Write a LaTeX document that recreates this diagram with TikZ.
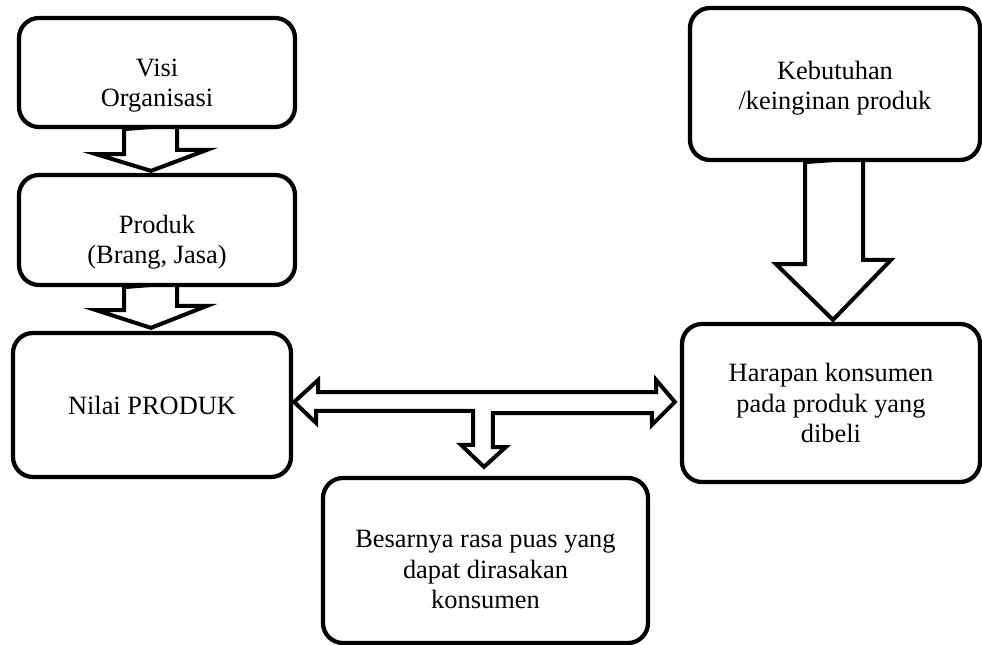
\documentclass[tikz,border=0pt]{standalone}
\usepackage{fontspec}
\setmainfont{Liberation Serif}
\usepackage{tikz}
\usetikzlibrary{positioning}
\usetikzlibrary{calc}
\usetikzlibrary{backgrounds}
\tikzset{
  box/.style={draw,rectangle,rounded corners=15pt,line width=3.2pt,fill=white,align=center,inner sep=0pt},
  blockarrow/.style={draw,line width=3pt,line join=miter,fill=white}
}

\begin{document}
\begin{tikzpicture}[x=0.75pt,y=-0.75pt,font=\fontsize{19.8}{22.8}\selectfont]
\useasboundingbox (0,0) rectangle (982,645);

%left column
\node (visi) at (157,72.5) [box,minimum width=207pt,minimum height=81.75pt] {\rule{0pt}{33pt}Visi\\Organisasi};
\node (produk) at (157,230) [box,minimum width=207pt,minimum height=82.5pt] {\rule{0pt}{32pt}Produk\\(Brang, Jasa)};
\node (nilai) at (152,405) [box,minimum width=208.5pt,minimum height=108pt] {Nilai PRODUK};

%right column
\node (keb) at (835,84) [box,minimum width=217.5pt,minimum height=114pt] {\rule{0pt}{20pt}Kebutuhan\\/keinginan produk};
\node (harapan) at (831,403) [box,minimum width=223.5pt,minimum height=118.5pt] {Harapan konsumen\\pada produk yang\\dibeli};

%result
\node (puas) at (485.5,560.5) [box,minimum width=243.75pt,minimum height=123.75pt] {\rule{0pt}{27pt}Besarnya rasa puas yang\\dapat dirasakan\\konsumen};

\begin{scope}[on background layer]
%down arrows
\draw [blockarrow] ($(visi.south)+(-33,0)$) -- ++(0,25) -- ++(-28,0) -- ($(produk.north)+(-6,-2)$)
  -- ++(56,-21) -- ++(-30,0) -- ++(0,-25) -- cycle;
\draw [blockarrow] ($(produk.south)+(-33,0)$) -- ++(0,23) -- ++(-28,0) -- ($(nilai.north)+(-1,-3)$)
  -- ++(56,-22) -- ++(-30,0) -- ++(0,-23) -- cycle;
\draw [blockarrow] ($(keb.south)+(-30,0)$) -- ++(0,102) -- ++(-29,0) -- ($(harapan.north)+(2,-2)$)
  -- ++(58,-60) -- ++(-28,0) -- ++(0,-102) -- cycle;

%double arrow with stem
\draw [blockarrow] ($(nilai.east)+(1,-3)$) -- ++(24,-22) -- ++(0,12) -- ++(338,0) -- ++(0,-12)
  -- ($(harapan.west)+(-5,-1)$) -- ++(-23,23) -- ++(0,-12) -- ++(-159,0) -- ++(0,34) -- ++(13,0)
  -- ($(puas.north)+(-1.5,-9)$) -- ++(-23,-22) -- ++(12,0) -- ++(0,-34) -- ++(-157,0) -- ++(0,12) -- cycle;
\end{scope}
\end{tikzpicture}
\end{document}
